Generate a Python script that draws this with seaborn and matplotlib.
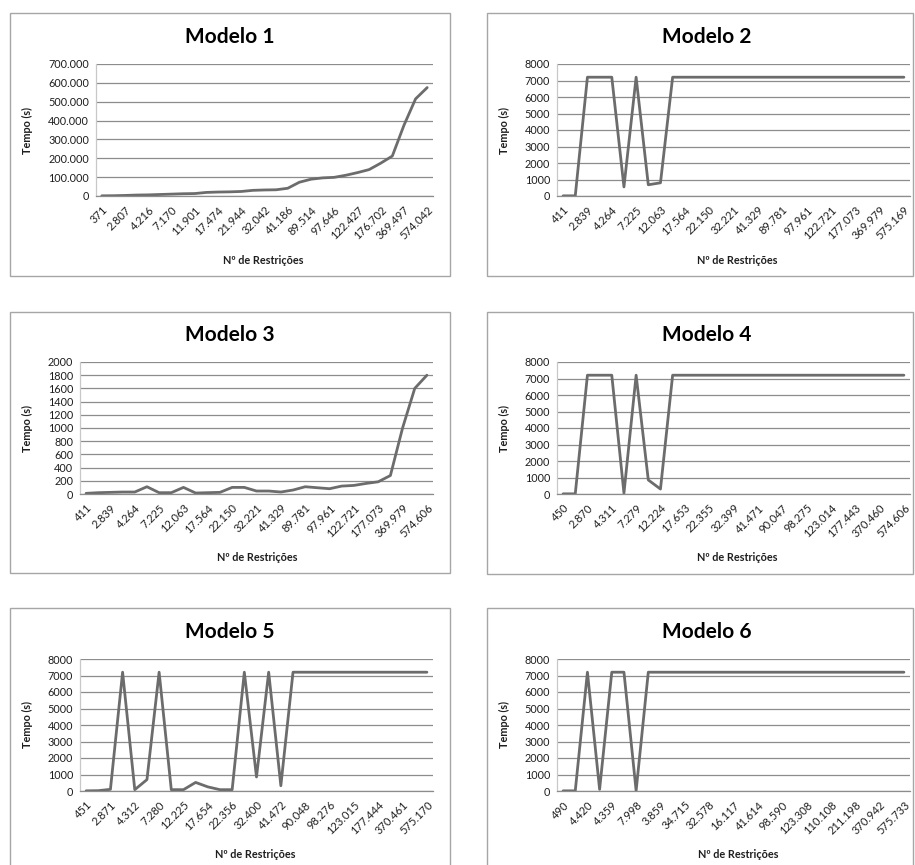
import matplotlib
matplotlib.use("Agg")
import matplotlib.pyplot as plt
import seaborn as sns
import numpy as np
from matplotlib.patches import Rectangle
from matplotlib.ticker import FuncFormatter

# ---- data: solve time (s) per instance, ordered by number of constraints ----
labels_m1 = ["371", "2.807", "4.216", "7.170", "11.901", "17.474", "21.944", "32.042",
             "41.186", "89.514", "97.646", "122.427", "176.702", "369.497", "574.042"]
tempo_m1 = [1000, 1500, 3000, 5000, 6000, 8000, 10000, 12000, 13000, 19000, 21000, 22000,
            24000, 30000, 32000, 33000, 41000, 73000, 89000, 96000, 99000, 110000, 124000,
            140000, 174000, 212000, 375000, 515000, 575000]

labels_m2 = ["411", "2.839", "4.264", "7.225", "12.063", "17.564", "22.150", "32.221",
             "41.329", "89.781", "97.961", "122.721", "177.073", "369.979", "575.169"]
tempo_m2 = [10, 10, 7200, 7200, 7200, 550, 7200, 680, 800] + [7200] * 20

labels_m3 = ["411", "2.839", "4.264", "7.225", "12.063", "17.564", "22.150", "32.221",
             "41.329", "89.781", "97.961", "122.721", "177.073", "369.979", "574.606"]
tempo_m3 = [10, 20, 25, 30, 30, 110, 20, 20, 100, 15, 20, 25, 100, 100, 45, 45, 30, 60,
            110, 95, 80, 120, 130, 160, 185, 280, 1000, 1600, 1800]

labels_m4 = ["450", "2.870", "4.311", "7.279", "12.224", "17.653", "22.355", "32.399",
             "41.471", "90.047", "98.275", "123.014", "177.443", "370.460", "574.606"]
tempo_m4 = [10, 10, 7200, 7200, 7200, 50, 7200, 850, 300] + [7200] * 20

labels_m5 = ["451", "2.871", "4.312", "7.280", "12.225", "17.654", "22.356", "32.400",
             "41.472", "90.048", "98.276", "123.015", "177.444", "370.461", "575.170"]
tempo_m5 = [10, 20, 100, 7200, 80, 690, 7200, 80, 80, 520, 250, 80, 80, 7200, 850,
            7200, 320] + [7200] * 12

labels_m6 = ["490", "4.420", "4.359", "7.998", "3.859", "34.715", "32.578", "16.117",
             "41.614", "98.590", "123.308", "110.108", "211.198", "370.942", "575.733"]
tempo_m6 = [10, 10, 7200, 100, 7200, 7200, 20, 7200] + [7200] * 21

titulos = ["Modelo 1", "Modelo 2", "Modelo 3", "Modelo 4", "Modelo 5", "Modelo 6"]
y_max = [700000, 8000, 2000, 8000, 8000, 8000]
y_step = [100000, 1000, 200, 1000, 1000, 1000]

series = [(labels_m1, tempo_m1), (labels_m2, tempo_m2), (labels_m3, tempo_m3),
          (labels_m4, tempo_m4), (labels_m5, tempo_m5), (labels_m6, tempo_m6)]

# ---- layout in pixels ----
W, H = 915, 865
boxes = [(10, 13, 450, 276), (487, 13, 913, 276),
         (10, 312, 450, 573), (487, 312, 913, 574),
         (10, 608, 450, 880), (487, 608, 913, 880)]
plots = [(96, 64, 433, 196), (557, 64, 910, 196),
         (80, 362, 433, 494), (557, 362, 910, 494),
         (80, 659, 433, 791), (557, 659, 910, 791)]
title_pos = [(230, 37), (707, 37), (230, 335), (707, 335), (230, 632), (707, 632)]
xlabel_pos = [(263, 255), (737, 255), (257, 552), (737, 552), (255, 849), (738, 849)]
ylabel_x = [33, 510, 33, 510, 33, 510]

sns.set_theme(style="white")
plt.rcParams["font.family"] = ["Lato", "DejaVu Sans"]

fig = plt.figure(figsize=(W / 100, H / 100), dpi=100)
fig.patch.set_facecolor("white")

line_col = "#6c6c6c"
grid_col = "#8c8c8c"
text_col = "#1e1e1e"

for i, ((labs, vals), box, pr) in enumerate(zip(series, boxes, plots)):
    bx0, by0, bx1, by1 = box
    fig.add_artist(Rectangle((bx0 / W, 1 - by1 / H), (bx1 - bx0) / W, (by1 - by0) / H,
                             transform=fig.transFigure, fill=False,
                             edgecolor="#a6a6a6", linewidth=1.0))

    x0, y0, x1, y1 = pr
    ax = fig.add_axes([x0 / W, 1 - y1 / H, (x1 - x0) / W, (y1 - y0) / H])
    n = len(vals)
    sns.lineplot(x=np.arange(n), y=vals, ax=ax, color=line_col, linewidth=2.0)

    ax.set_xlim(-0.5, n - 0.5)
    ax.set_ylim(0, y_max[i])
    ax.set_yticks(np.arange(0, y_max[i] + y_step[i] / 2, y_step[i]))
    if y_max[i] >= 100000:
        ax.yaxis.set_major_formatter(FuncFormatter(lambda v, p: f"{int(v):,}".replace(",", ".")))
    ax.yaxis.grid(True, color=grid_col, linewidth=0.9)
    ax.xaxis.grid(False)
    ax.set_axisbelow(True)
    for s in ("top", "right"):
        ax.spines[s].set_visible(False)
    ax.spines["left"].set_color("#c8c8c8")
    ax.spines["bottom"].set_color(grid_col)
    ax.spines["left"].set_linewidth(0.9)
    ax.spines["bottom"].set_linewidth(0.9)

    ax.set_xticks(np.arange(0, n, 2))
    ax.set_xticklabels(labs)
    ax.set_xticks(np.arange(-0.5, n, 1), minor=True)
    ax.tick_params(axis="x", which="major", length=0, pad=6, labelsize=8, colors=text_col)
    ax.tick_params(axis="x", which="minor", length=4, width=0.8, color=grid_col, direction="out")
    ax.tick_params(axis="y", length=3, width=0.8, color="#c8c8c8", direction="out",
                   pad=2, labelsize=7.8, colors=text_col)
    for lbl in ax.get_xticklabels():
        lbl.set_rotation(45)
        lbl.set_ha("right")
        lbl.set_rotation_mode("anchor")

    ax.set_xlabel("Nº de Restrições", fontsize=7.8, fontweight="bold", color=text_col)
    ax.set_ylabel("Tempo (s)", fontsize=7.8, fontweight="bold", color=text_col)
    lx, ly = xlabel_pos[i]
    ax.xaxis.set_label_coords((lx - x0) / (x1 - x0), (y1 - ly) / (y1 - y0))
    ax.yaxis.set_label_coords((ylabel_x[i] - x0) / (x1 - x0), 0.5)

    tx, ty = title_pos[i]
    fig.text(tx / W, 1 - ty / H, titulos[i], ha="center", va="center",
             fontsize=15, fontweight="bold", color="black")

fig.savefig("out.png", dpi=100, facecolor="white")
